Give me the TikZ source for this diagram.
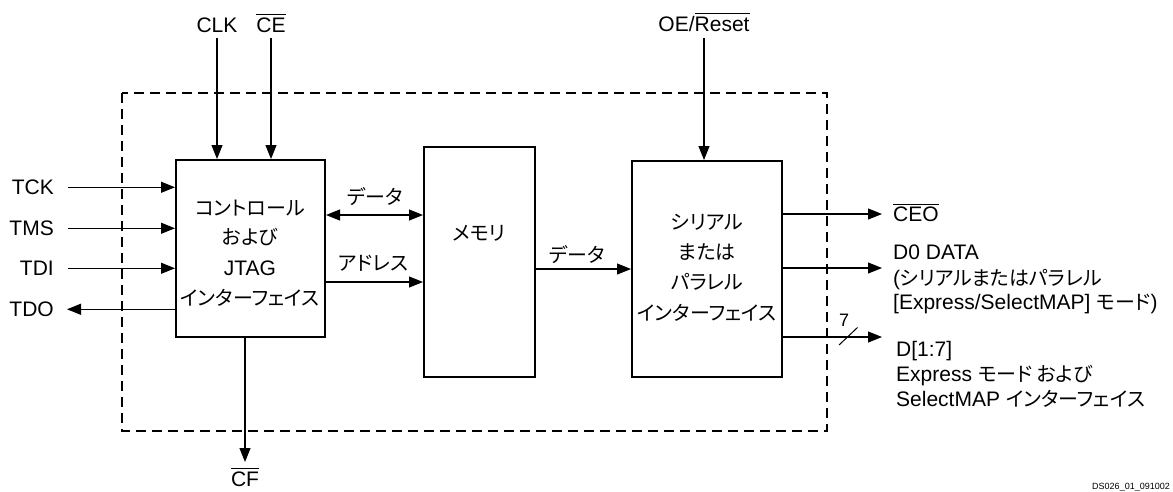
\documentclass[tikz,border=0pt]{standalone}
\usepackage{fontspec}
\setmainfont{Liberation Sans}
\newfontfamily\jp{Noto Sans CJK JP}[Scale=0.95,RawFeature=+palt]
\usetikzlibrary{arrows.meta}
\newcommand\barsig[1]{\vbox{\hrule height 0.9pt\kern 2.2pt\hbox{#1}}}
\begin{document}
\begin{tikzpicture}[x=1pt,y=-1pt,
  font=\fontsize{21}{25}\selectfont,
  box/.style={draw,line width=2pt,inner sep=0pt},
  lbl/.style={inner sep=0pt,anchor=base},
  sig/.style={line width=1.1pt,-{Triangle[length=14pt,width=11pt]}},
  bisig/.style={line width=1.1pt,{Triangle[length=14pt,width=11pt]}-{Triangle[length=14pt,width=11pt]}},
  frame/.style={line width=2pt,dash pattern=on 10pt off 6pt}]
\useasboundingbox (0,0) rectangle (1173,491);
% dashed frame
\draw[frame] (122,93) rectangle (827,431);
% blocks
\node[box,minimum width=149pt,minimum height=177pt] (ctrl) at (250.5,248.5) {};
\node[box,minimum width=111pt,minimum height=230pt] (mem) at (479.5,262) {};
\node[box,minimum width=150pt,minimum height=216pt] (ser) at (707,269) {};
% block texts
\node[lbl] (c1) at (250,215.5) {\jp コントロール};
\node[lbl] (c2) at (250,244.5) {\jp および};
\node[lbl] (c3) at (250,275.5) {JTAG};
\node[lbl] (c4) at (250,305.5) {\jp インターフェイス};
\node[lbl] (m1) at (479,240.5) {\jp メモリ};
\node[lbl] (s1) at (707,229.5) {\jp シリアル};
\node[lbl] (s2) at (707,259.5) {\jp または};
\node[lbl] (s3) at (707,289.5) {\jp パラレル};
\node[lbl] (s4) at (707,320.5) {\jp インターフェイス};
% top inputs
\node[lbl] (clk) at (217,32) {CLK};
\node[lbl] (ce) at (271,32) {\barsig{CE}};
\node[lbl] (oe) at (704,31) {OE/\barsig{Reset}};
\draw[sig] ([yshift=-6pt]clk.south) -- (clk.south |- ctrl.north);
\draw[sig] ([yshift=-6pt]ce.south) -- (ce.south |- ctrl.north);
\draw[sig] ([yshift=-7pt]oe.south) -- (oe.south |- ser.north);
% left JTAG signals
\node[lbl,anchor=base east] (tck) at (54,194.5) {TCK};
\node[lbl,anchor=base east] (tms) at (54,235.5) {TMS};
\node[lbl,anchor=base east] (tdi) at (54,275.5) {TDI};
\node[lbl,anchor=base east] (tdo) at (54,316.5) {TDO};
\draw[sig] ([xshift=14pt]tck.east) -- (tck.east -| ctrl.west);
\draw[sig] ([xshift=14pt]tms.east) -- (tms.east -| ctrl.west);
\draw[sig] ([xshift=14pt]tdi.east) -- (tdi.east -| ctrl.west);
\draw[sig] (tdo.east -| ctrl.west) -- ([xshift=13pt]tdo.east);
% CF output
\node[lbl] (cf) at (245,486) {\barsig{CF}};
\coordinate (cftip) at (245,462);
\draw[sig] (cftip |- ctrl.south) -- (cftip);
% internal connections
\coordinate (dy) at (0,215);
\coordinate (ay) at (0,282);
\coordinate (my) at (0,269);
\draw[bisig] (ctrl.east |- dy) -- (mem.west |- dy);
\draw[sig] (ctrl.east |- ay) -- (mem.west |- ay);
\draw[sig] (mem.east |- my) -- (ser.west |- my);
\node[lbl] (dl1) at (375,204) {\jp データ};
\node[lbl] (al) at (373,270.5) {\jp アドレス};
\node[lbl] (dl2) at (577,262.5) {\jp データ};
% right outputs
\node[lbl,anchor=base west] (ceo) at (893,221.5) {\barsig{CEO}};
\node[lbl,anchor=base west] (d0) at (893,259.5) {D0 DATA};
\node[lbl,anchor=base west] (d0b) at (893,285) {({\jp シリアルまたはパラレル}};
\node[lbl,anchor=base west] (d0c) at (893,309.5) {[Express/SelectMAP] {\jp モード})};
\node[lbl,anchor=base west] (d17) at (896,356.5) {D[1:7]};
\node[lbl,anchor=base west] (d17b) at (896,381.5) {Express {\jp モード および}};
\node[lbl,anchor=base west] (d17c) at (896,406.5) {SelectMAP {\jp インターフェイス}};
\coordinate (ceotip) at (882,214);
\coordinate (d0tip) at (882,268);
\coordinate (d17tip) at (882,337);
\draw[sig] (ser.east |- ceotip) -- (ceotip);
\draw[sig] (ser.east |- d0tip) -- (d0tip);
\draw[sig] (ser.east |- d17tip) -- (d17tip);
\draw[line width=1pt] (839,345) -- (857.5,327.5);
\node[font=\fontsize{18}{20}\selectfont,inner sep=0pt] (seven) at (844,320) {7};
% figure id
\node[lbl,anchor=base east,font=\fontsize{9}{10}\selectfont] (ds) at (1170,489) {DS026\_01\_091002};
\end{tikzpicture}
\end{document}
